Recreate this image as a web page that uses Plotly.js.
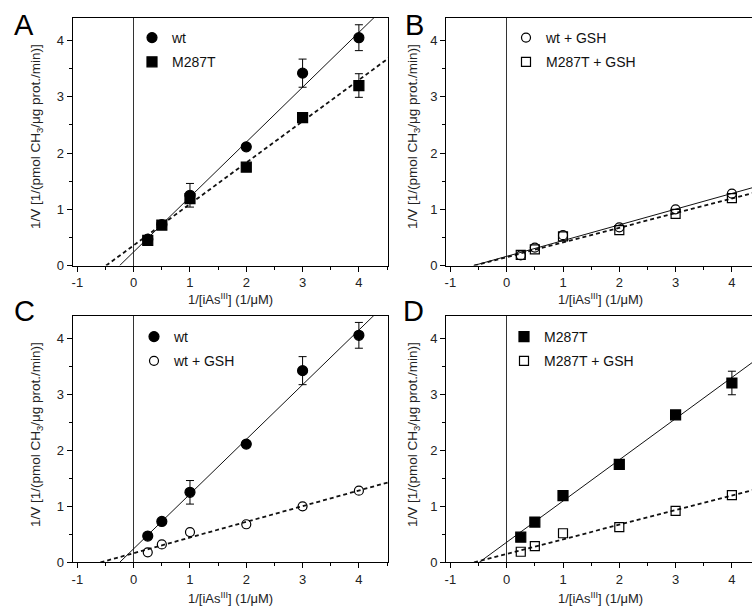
<!DOCTYPE html>
<html>
<head>
<meta charset="utf-8">
<script src="https://cdn.plot.ly/plotly-3.0.1.min.js"></script>
<style>html,body{margin:0;padding:0;background:#fff;}#chart{width:752px;height:610px;}</style>
</head>
<body>
<div id="chart"></div>
<script>
// ---- data ----
const xVals = [0.25, 0.5, 1, 2, 3, 4];
const wtY = [0.47, 0.73, 1.25, 2.11, 3.42, 4.05];
const wtErr = [0.03, 0.03, 0.21, 0.05, 0.25, 0.23];
const m287tY = [0.45, 0.72, 1.19, 1.75, 2.63, 3.20];
const m287tErr = [0.03, 0.03, 0.05, 0.05, 0.05, 0.21];
const wtGshY = [0.18, 0.32, 0.54, 0.68, 1.00, 1.28];
const m287tGshY = [0.19, 0.29, 0.52, 0.63, 0.92, 1.20];

// regression line end points
const wtFitX = [-0.25, 4.6], wtFitY = [0, 4.73];
const m287tFitX = [-0.49, 4.6], m287tFitY = [0, 3.74];
const wtGshFitX = [-0.59, 4.6], wtGshFitY = [0, 1.45];
const m287tGshFitX = [-0.58, 4.6], m287tGshFitY = [0, 1.35];

const xTickVals = [-1, 0, 1, 2, 3, 4];
const xTickText = ['-1', '0', '1', '2', '3', '4'];
const yTickVals = [0, 1, 2, 3, 4];
const yTickText = ['0', '1', '2', '3', '4'];
const panelLetters = ['A', 'B', 'C', 'D'];
const xTitle = '1/[iAs<sup>III</sup>] (1/μM)';
const yTitle = '1/V [1/(pmol CH<sub>3</sub>/μg prot./min)]';

// ---- styles ----
const FONT = 'Liberation Sans, Arial, sans-serif';
const solid = {color: '#111', width: 1};
const dashed = {color: '#111', width: 1.8, dash: '4px,3px'};

function pts(ax, y, name, symbol, size, legend, err) {
  const t = {
    x: xVals, y: y, name: name, type: 'scatter', mode: 'markers',
    xaxis: 'x' + ax, yaxis: 'y' + ax, legend: legend, legendgroup: name + legend,
    marker: {symbol: symbol, size: size, color: '#000', line: {color: '#000', width: 1.2}},
    cliponaxis: false
  };
  if (err) t.error_y = {type: 'data', array: err, visible: true, color: '#000', thickness: 1, width: 4};
  return t;
}
function fit(ax, x, y, line) {
  return {x: x, y: y, type: 'scatter', mode: 'lines', xaxis: 'x' + ax, yaxis: 'y' + ax,
    line: line, showlegend: false, hoverinfo: 'skip'};
}

const data = [
  // A
  fit('', wtFitX, wtFitY, solid),
  fit('', m287tFitX, m287tFitY, dashed),
  pts('', wtY, 'wt', 'circle', 10, 'legend', wtErr),
  pts('', m287tY, 'M287T', 'square', 10, 'legend', m287tErr),
  // B
  fit('2', wtGshFitX, wtGshFitY, solid),
  fit('2', m287tGshFitX, m287tGshFitY, dashed),
  pts('2', wtGshY, 'wt + GSH', 'circle-open', 9, 'legend2'),
  pts('2', m287tGshY, 'M287T + GSH', 'square-open', 9, 'legend2'),
  // C
  fit('3', wtFitX, wtFitY, solid),
  fit('3', wtGshFitX, wtGshFitY, dashed),
  pts('3', wtY, 'wt', 'circle', 10, 'legend3', wtErr),
  pts('3', wtGshY, 'wt + GSH', 'circle-open', 9, 'legend3'),
  // D
  fit('4', m287tFitX, m287tFitY, solid),
  fit('4', m287tGshFitX, m287tGshFitY, dashed),
  pts('4', m287tY, 'M287T', 'square', 10, 'legend4', m287tErr),
  pts('4', m287tGshY, 'M287T + GSH', 'square-open', 9, 'legend4')
];

const W = 752, H = 610;
const colL = [72.7 / W, 388 / W], colR = [446 / W, 1];
const rowT = [1 - 265.6 / H, 1 - 18 / H], rowB = [1 - 562.4 / H, 1 - 315.7 / H];

function xax(domain, range, anchor) {
  return {
    domain: domain, range: range, anchor: anchor,
    tickmode: 'array', tickvals: xTickVals, ticktext: xTickText,
    ticks: 'outside', ticklen: 5, tickcolor: '#000', tickwidth: 1,
    minor: {dtick: 0.5, tick0: 0, ticks: 'outside', ticklen: 3, tickcolor: '#000', showgrid: false},
    showline: true, mirror: true, linecolor: '#000', linewidth: 1,
    showgrid: false, zeroline: true, zerolinecolor: '#333', zerolinewidth: 1,
    tickfont: {family: FONT, size: 13, color: '#222'},
    fixedrange: true
  };
}
function yax(domain, anchor) {
  return {
    domain: domain, range: [0, 4.4], anchor: anchor,
    tickmode: 'array', tickvals: yTickVals, ticktext: yTickText,
    ticks: 'outside', ticklen: 5, tickcolor: '#000', tickwidth: 1,
    minor: {dtick: 0.5, tick0: 0, ticks: 'outside', ticklen: 3, tickcolor: '#000', showgrid: false},
    showline: true, mirror: true, linecolor: '#000', linewidth: 1,
    showgrid: false, zeroline: false,
    tickfont: {family: FONT, size: 13, color: '#222'},
    fixedrange: true
  };
}
function leg(xpx, ypx) {
  return {x: xpx / W, y: 1 - ypx / H, xanchor: 'left', yanchor: 'top',
    bgcolor: 'rgba(0,0,0,0)', borderwidth: 0, traceorder: 'grouped', tracegroupgap: 3,
    font: {family: FONT, size: 14, color: '#111'}};
}
function letter(i, xpx, ypx) {
  return {text: panelLetters[i], xref: 'paper', yref: 'paper', x: xpx / W, y: 1 - ypx / H,
    xanchor: 'left', yanchor: 'middle', showarrow: false,
    font: {family: FONT, size: 29, color: '#000'}};
}
function xLabel(xpx, ypx) {
  return {text: xTitle, xref: 'paper', yref: 'paper', x: xpx / W, y: 1 - ypx / H,
    xanchor: 'center', yanchor: 'middle', showarrow: false,
    font: {family: FONT, size: 13, color: '#222'}};
}
function yLabel(xpx, ypx) {
  return {text: yTitle, xref: 'paper', yref: 'paper', x: xpx / W, y: 1 - ypx / H,
    xanchor: 'center', yanchor: 'middle', showarrow: false, textangle: -90,
    font: {family: FONT, size: 13.5, color: '#222'}};
}

const layout = {
  width: W, height: H, margin: {l: 0, r: 0, t: 0, b: 0},
  paper_bgcolor: '#fff', plot_bgcolor: '#fff', showlegend: true,
  xaxis: xax(colL, [-1.083, 4.517], 'y'),
  yaxis: yax(rowT, 'x'),
  xaxis2: xax(colR, [-1.078, 4.357], 'y2'),
  yaxis2: yax(rowT, 'x2'),
  xaxis3: xax(colL, [-1.083, 4.517], 'y3'),
  yaxis3: yax(rowB, 'x3'),
  xaxis4: xax(colR, [-1.078, 4.357], 'y4'),
  yaxis4: yax(rowB, 'x4'),
  legend: leg(132, 22),
  legend2: leg(506, 22),
  legend3: leg(134, 321),
  legend4: leg(504, 321),
  annotations: [
    letter(0, 12, 25), letter(1, 403, 25), letter(2, 12, 311), letter(3, 401, 311),
    xLabel(230, 299), xLabel(600, 299), xLabel(230, 598), xLabel(600, 598),
    yLabel(36, 137), yLabel(413, 137), yLabel(36, 435), yLabel(413, 435)
  ]
};

Plotly.newPlot('chart', data, layout, {displayModeBar: false, staticPlot: true});
</script>
</body>
</html>
